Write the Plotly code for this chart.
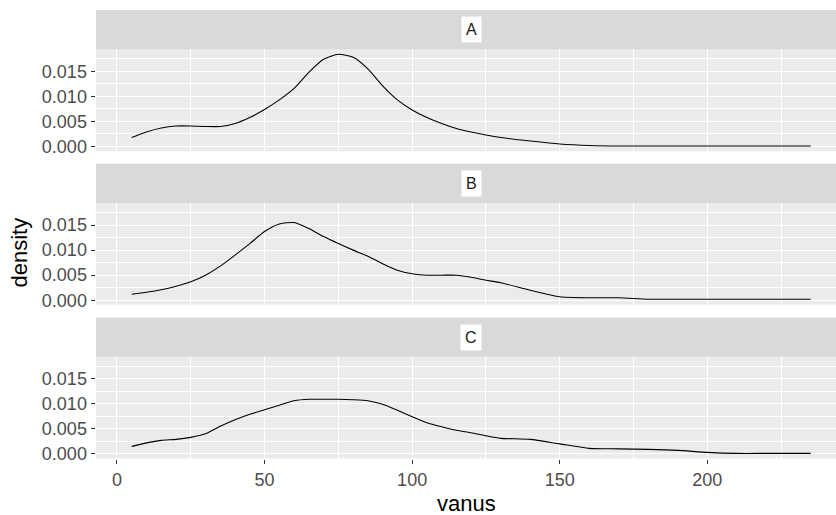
import plotly.graph_objects as go

# ---- data ----
vanus = [5, 10, 15, 20, 25, 30, 35, 40, 45, 50, 55, 60, 65, 70, 75, 80, 85, 90, 95, 100,
         105, 110, 115, 120, 125, 130, 140, 150, 160, 170, 180, 190, 200, 210, 220, 235]
density_A = [0.0018, 0.0029, 0.0037, 0.0041, 0.0041, 0.0040, 0.0040, 0.0046, 0.0058, 0.0074,
             0.0093, 0.0116, 0.0148, 0.0174, 0.0184, 0.0178, 0.0155, 0.0121, 0.0093, 0.0073,
             0.0058, 0.0046, 0.0036, 0.0029, 0.0023, 0.0018, 0.0011, 0.0005, 0.0002, 0.0001,
             0.0001, 0.0001, 0.0001, 0.0001, 0.0001, 0.0001]
density_B = [0.0012, 0.0016, 0.0021, 0.0028, 0.0037, 0.0050, 0.0068, 0.0090, 0.0113, 0.0137,
             0.0152, 0.0155, 0.0143, 0.0127, 0.0113, 0.0100, 0.0088, 0.0073, 0.0060, 0.0053,
             0.0050, 0.0050, 0.0050, 0.0046, 0.0040, 0.0035, 0.0020, 0.0007, 0.0005, 0.0005,
             0.0002, 0.0002, 0.0002, 0.0002, 0.0002, 0.0002]
density_C = [0.0015, 0.0022, 0.0027, 0.0029, 0.0033, 0.0040, 0.0055, 0.0068, 0.0079, 0.0088,
             0.0097, 0.0106, 0.0109, 0.0109, 0.0109, 0.0108, 0.0106, 0.0099, 0.0087, 0.0074,
             0.0062, 0.0054, 0.0047, 0.0042, 0.0036, 0.0031, 0.0029, 0.0020, 0.0011, 0.0010,
             0.0009, 0.0007, 0.0003, 0.0001, 0.0001, 0.0001]
panels = ["A", "B", "C"]
series = [density_A, density_B, density_C]
x_ticks = [0, 50, 100, 150, 200]
y_ticks = [0.000, 0.005, 0.010, 0.015]

W, H = 836, 515
YS = 1.014  # vertical correction factor
left_px, right_px = 96, 836
# (strip_top, strip_bottom/panel_top, panel_bottom) in pixels
rows_px = [(10, 49.3, 150.8), (163.4, 202.7, 304.2), (316.8, 356.0, 457.5)]

def py(p):
    return max(0.0, min(1.0, 1 - p * YS / H))

fig = go.Figure()
FONT = "Liberation Sans, Arial, sans-serif"
shapes = []
annotations = []
for i, (name, dens) in enumerate(zip(panels, series)):
    k = "" if i == 0 else str(i + 1)
    st, pt, pb = rows_px[i]
    fig.add_trace(go.Scatter(x=vanus, y=dens, mode="lines",
                             line=dict(color="black", width=1.1, shape="spline", smoothing=0.6),
                             xaxis="x" + k, yaxis="y" + k, showlegend=False, hoverinfo="skip"))
    last = i == 2
    fig.update_layout(**{
        "xaxis" + k: dict(domain=[left_px / W, right_px / W], range=[-7.1, 243.6], anchor="y" + k,
                          tickvals=x_ticks, showticklabels=last, ticks="outside" if last else "",
                          ticklen=4.5, tickwidth=1.1, tickcolor="#333333",
                          tickfont=dict(family=FONT, size=18, color="#4D4D4D"),
                          showgrid=True, gridcolor="white", gridwidth=1.3, zeroline=False, showline=False,
                          minor=dict(dtick=25, tick0=0, showgrid=True, gridcolor="white", gridwidth=0.6),
                          fixedrange=True),
        "yaxis" + k: dict(domain=[py(pb), py(pt)], range=[-0.00092, 0.01937], anchor="x" + k,
                          tickvals=y_ticks, tickformat=".3f", ticks="outside", ticklen=4.5, tickwidth=1.1,
                          tickcolor="#333333", tickfont=dict(family=FONT, size=18, color="#4D4D4D"),
                          showgrid=True, gridcolor="white", gridwidth=1.3, zeroline=False, showline=False,
                          minor=dict(dtick=0.0025, tick0=0, showgrid=True, gridcolor="white", gridwidth=0.6),
                          fixedrange=True),
    })
    shapes.append(dict(type="rect", xref="paper", yref="paper", x0=left_px / W, x1=right_px / W,
                       y0=py(pb), y1=py(pt), fillcolor="#EBEBEB", line=dict(width=0), layer="below"))
    shapes.append(dict(type="rect", xref="paper", yref="paper", x0=left_px / W, x1=right_px / W,
                       y0=py(pt), y1=py(st), fillcolor="#D9D9D9", line=dict(width=0), layer="below"))
    annotations.append(dict(text=name, xref="paper", yref="paper", x=(left_px + 375) / W, y=py((st + pt) / 2),
                            showarrow=False, font=dict(family=FONT, size=16, color="#1A1A1A"),
                            bgcolor="white", borderpad=4, xanchor="center", yanchor="middle"))

annotations.append(dict(text="density", xref="paper", yref="paper", x=20 / W, y=py(252), textangle=-90,
                        showarrow=False, font=dict(family=FONT, size=22, color="black"),
                        xanchor="center", yanchor="middle"))
annotations.append(dict(text="vanus", xref="paper", yref="paper", x=466 / W, y=py(502),
                        showarrow=False, font=dict(family=FONT, size=22, color="black"),
                        xanchor="center", yanchor="middle"))

fig.update_layout(width=W, height=H, margin=dict(l=0, r=0, t=0, b=0), paper_bgcolor="white",
                  plot_bgcolor="rgba(0,0,0,0)", shapes=shapes, annotations=annotations)
fig.write_html("out.html")
